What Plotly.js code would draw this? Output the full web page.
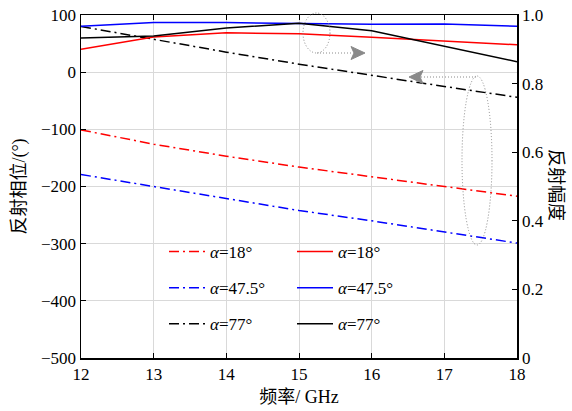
<!DOCTYPE html>
<html>
<head>
<meta charset="utf-8">
<script src="https://cdn.plot.ly/plotly-3.0.1.min.js"></script>
<style>html,body{margin:0;padding:0;background:#fff;}</style>
</head>
<body>
<div id="chart" style="width:572px;height:411px;"></div>
<script>
// ---- data ----
const freq = [12, 13, 14, 15, 16, 17, 18];
const phase18 = [-101, -126, -147, -166, -183, -200, -217];
const phase47 = [-179, -200, -222, -242, -260, -279, -299];
const phase77 = [80, 57, 35, 14, -6, -25, -44];
const amp18 = [0.900, 0.936, 0.948, 0.945, 0.935, 0.924, 0.913];
const amp47 = [0.967, 0.978, 0.978, 0.975, 0.973, 0.974, 0.967];
const amp77 = [0.933, 0.939, 0.962, 0.976, 0.954, 0.908, 0.864];
const seriesNames = ['<i>α</i>=18°', '<i>α</i>=47.5°', '<i>α</i>=77°'];
const xTicks = [12, 13, 14, 15, 16, 17, 18];
const yTicks = [100, 0, -100, -200, -300, -400, -500];
const y2Ticks = [0, 0.2, 0.4, 0.6, 0.8, 1.0];
const y2TickText = ['0', '0.2', '0.4', '0.6', '0.8', '1.0'];

const colors = ['#ff0000', '#0000ff', '#000000'];
const dd = '10px,4px,2px,4px';
const phases = [phase18, phase47, phase77];
const amps = [amp18, amp47, amp77];

const traces = [];
phases.forEach((p, i) => {
  traces.push({x: freq, y: p, type: 'scatter', mode: 'lines', name: seriesNames[i],
    line: {color: colors[i], width: 1.5, dash: dd}, legend: 'legend', legendgroup: 'p' + i, yaxis: 'y'});
});
amps.forEach((a, i) => {
  traces.push({x: freq, y: a, type: 'scatter', mode: 'lines', name: seriesNames[i],
    line: {color: colors[i], width: 1.5}, legend: 'legend2', legendgroup: 'a' + i, yaxis: 'y2'});
});

const F = 'Liberation Serif, Times New Roman, Noto Sans CJK SC, serif';
const CJK = 'Liberation Serif, Noto Sans CJK SC, serif';
const gray = '#8a8a8a';

// helper to convert pixel positions to paper coordinates
const L = 81, T = 15, W = 436, H = 343;
const px = v => (v - L) / W;
const py = v => (T + H - v) / H;

const layout = {
  width: 572, height: 411,
  margin: {l: L, r: 572 - L - W, t: T, b: 411 - T - H},
  paper_bgcolor: '#fff', plot_bgcolor: '#fff',
  font: {family: F, size: 16, color: '#000'},
  showlegend: true,
  xaxis: {
    range: [12, 18], tickvals: xTicks, ticks: 'inside', ticklen: 5, tickcolor: '#000',
    showline: true, linecolor: '#000', linewidth: 1.5, mirror: 'ticks',
    showgrid: true, gridcolor: '#d9d9d9', gridwidth: 1, zeroline: false,
    tickfont: {family: F, size: 17},
    title: {text: '频率/ GHz', font: {family: CJK, size: 18}, standoff: 7}
  },
  yaxis: {
    range: [-500, 100], tickvals: yTicks, ticks: 'inside', ticklen: 5, tickcolor: '#000',
    showline: true, linecolor: '#000', linewidth: 1.5,
    showgrid: true, gridcolor: '#d9d9d9', gridwidth: 1, zeroline: false,
    tickfont: {family: F, size: 17},
    title: {text: '反射相位/(°)', font: {family: CJK, size: 18}, standoff: 10}
  },
  yaxis2: {
    range: [0, 1], overlaying: 'y', side: 'right', tickvals: y2Ticks, ticktext: y2TickText,
    ticks: 'inside', ticklen: 5, tickcolor: '#000',
    showline: true, linecolor: '#000', linewidth: 1.5, showgrid: false, zeroline: false,
    tickfont: {family: F, size: 17}
  },
  legend: {
    x: px(164), y: py(234), xanchor: 'left', yanchor: 'top', bgcolor: 'rgba(0,0,0,0)',
    font: {family: F, size: 17}, tracegroupgap: 11, traceorder: 'grouped', itemwidth: 36
  },
  legend2: {
    x: px(292), y: py(234), xanchor: 'left', yanchor: 'top', bgcolor: 'rgba(0,0,0,0)',
    font: {family: F, size: 17}, tracegroupgap: 11, traceorder: 'grouped', itemwidth: 36
  },
  shapes: [
    {type: 'circle', xref: 'paper', yref: 'paper', x0: px(303), x1: px(330), y0: py(53), y1: py(13),
      line: {color: gray, width: 1, dash: '1px,2px'}},
    {type: 'line', xref: 'paper', yref: 'paper', x0: px(317), x1: px(353), y0: py(53), y1: py(53),
      line: {color: gray, width: 1, dash: '1px,2px'}},
    {type: 'path', xref: 'paper', yref: 'paper',
      path: `M${px(365)},${py(53)} L${px(351)},${py(46.5)} L${px(354)},${py(53)} L${px(351)},${py(59.5)} Z`,
      fillcolor: gray, line: {color: gray, width: 1}},
    {type: 'circle', xref: 'paper', yref: 'paper', x0: px(462), x1: px(492), y0: py(245), y1: py(76),
      line: {color: gray, width: 1, dash: '1px,2px'}},
    {type: 'line', xref: 'paper', yref: 'paper', x0: px(421), x1: px(476), y0: py(77), y1: py(77),
      line: {color: gray, width: 1, dash: '1px,2px'}},
    {type: 'path', xref: 'paper', yref: 'paper',
      path: `M${px(409)},${py(77)} L${px(423)},${py(70.5)} L${px(420)},${py(77)} L${px(423)},${py(83.5)} Z`,
      fillcolor: gray, line: {color: gray, width: 1}}
  ],
  annotations: [
    {text: '反射幅度', xref: 'paper', yref: 'paper', x: px(556), y: py(185), showarrow: false,
      textangle: 90, font: {family: CJK, size: 18}, xanchor: 'center', yanchor: 'middle'}
  ]
};

Plotly.newPlot('chart', traces, layout, {displayModeBar: false, staticPlot: true});
</script>
</body>
</html>
